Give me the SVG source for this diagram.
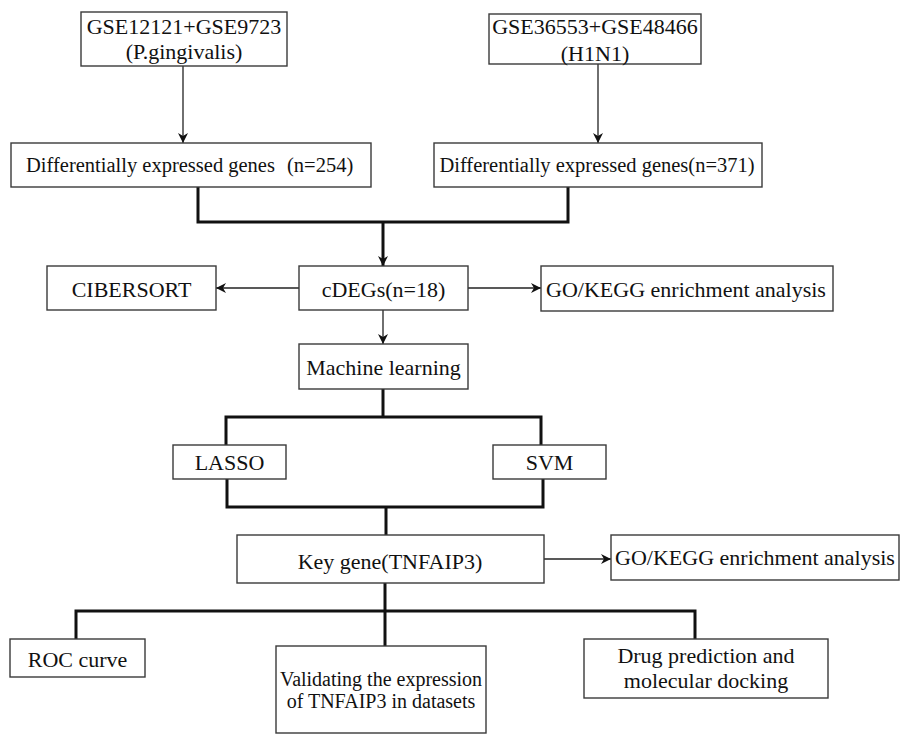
<svg xmlns="http://www.w3.org/2000/svg" width="900" height="734" viewBox="0 0 900 734">
<defs>
<style>
.box{fill:#fff;stroke:#3a3a3a;stroke-width:1.4}
.t{font-family:"Liberation Serif","Times New Roman",serif;font-size:22px;fill:#111;text-anchor:middle}
.s{font-size:20px}
.d{font-size:20.5px}
.thin{fill:none;stroke:#222;stroke-width:1.3}
.thick{fill:none;stroke:#111;stroke-width:3}
</style>
<marker id="ah" markerUnits="userSpaceOnUse" markerWidth="12" markerHeight="10" refX="10" refY="5" orient="auto">
<path d="M0,0 L10,5 L0,10 L3,5 z" fill="#111"/>
</marker>
</defs>
<rect width="900" height="734" fill="#fff"/>
<g id="connectors">
<path class="thin" d="M183,66 V143" marker-end="url(#ah)"/>
<path class="thin" d="M598,64 V143" marker-end="url(#ah)"/>
<path class="thick" d="M198,187 V222 H568 V187"/>
<path class="thick" d="M383,222 V266" marker-end="url(#ah)"/>
<path class="thin" d="M299,288 H216" marker-end="url(#ah)"/>
<path class="thin" d="M468,288 H541" marker-end="url(#ah)"/>
<path class="thin" d="M383,310 V344" marker-end="url(#ah)"/>
<path class="thick" d="M383,389 V417"/>
<path class="thick" d="M226,445 V417 H541 V445"/>
<path class="thick" d="M227,479 V507 H543 V479"/>
<path class="thick" d="M386,507 V535"/>
<path class="thin" d="M544,559 H611" marker-end="url(#ah)"/>
<path class="thick" d="M385,583 V646"/>
<path class="thick" d="M76,639 V611 H695 V639"/>
</g>
<g id="gse1"><rect class="box" x="81" y="12" width="206" height="54"/><text class="t" x="184" y="34">GSE12121+GSE9723</text><text class="t" x="184" y="59">(P.gingivalis)</text></g>
<g id="gse2"><rect class="box" x="489" y="14" width="212" height="50"/><text class="t" x="595" y="34">GSE36553+GSE48466</text><text class="t" x="595" y="61">(H1N1)</text></g>
<g id="deg1"><rect class="box" x="11" y="143" width="360" height="44"/><text class="t d" x="26" y="172" style="text-anchor:start">Differentially expressed genes <tspan x="287">(n=254)</tspan></text></g>
<g id="deg2"><rect class="box" x="434" y="143" width="328" height="44"/><text class="t d" x="597" y="172">Differentially expressed genes(n=371)</text></g>
<g id="cibersort"><rect class="box" x="47" y="266" width="169" height="44"/><text class="t" x="131.5" y="297">CIBERSORT</text></g>
<g id="cdegs"><rect class="box" x="299" y="266" width="169" height="44"/><text class="t" x="383.5" y="297">cDEGs(n=18)</text></g>
<g id="gokegg1"><rect class="box" x="541" y="266" width="292" height="45"/><text class="t" x="686" y="297">GO/KEGG enrichment analysis</text></g>
<g id="ml"><rect class="box" x="299" y="344" width="169" height="45"/><text class="t" x="383.5" y="375">Machine learning</text></g>
<g id="lasso"><rect class="box" x="173" y="445" width="113" height="34"/><text class="t" x="229.5" y="470">LASSO</text></g>
<g id="svm"><rect class="box" x="493" y="445" width="113" height="34"/><text class="t" x="549.5" y="470">SVM</text></g>
<g id="keygene"><rect class="box" x="237" y="535" width="307" height="48"/><text class="t" x="390" y="569">Key gene(TNFAIP3)</text></g>
<g id="gokegg2"><rect class="box" x="611" y="535" width="288" height="45"/><text class="t" x="755" y="565">GO/KEGG enrichment analysis</text></g>
<g id="roc"><rect class="box" x="10" y="639" width="135" height="38"/><text class="t" x="77.5" y="667">ROC curve</text></g>
<g id="validating"><rect class="box" x="276" y="646" width="210" height="87"/><text class="t s" x="381" y="686">Validating the expression</text><text class="t s" x="381" y="708">of TNFAIP3 in datasets</text></g>
<g id="drug"><rect class="box" x="584" y="639" width="244" height="59"/><text class="t" x="706" y="663">Drug prediction and</text><text class="t" x="706" y="688">molecular docking</text></g>
</svg>
